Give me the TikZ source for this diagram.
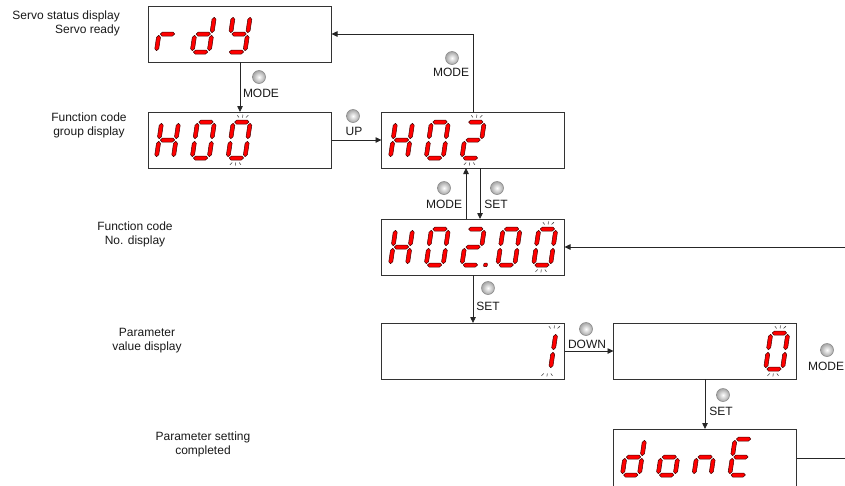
\documentclass[tikz,border=0pt]{standalone}
\usepackage{fontspec}
\setmainfont{Liberation Sans}
\usetikzlibrary{arrows.meta}

% seven-segment geometry (local frame, y up): width 21, height 40, half thickness 2
\newcommand\hseg[3]{\filldraw[segst] (#1,#3) -- (#1+2,#3+2) -- (#2-2,#3+2) -- (#2,#3) -- (#2-2,#3-2) -- (#1+2,#3-2) -- cycle;}
\newcommand\vseg[3]{\filldraw[segst] (#1,#2) -- (#1+2,#2+2) -- (#1+2,#3-2) -- (#1,#3) -- (#1-2,#3-2) -- (#1-2,#2+2) -- cycle;}
\newcommand\dsega{\hseg{3.3}{17.7}{38}}
\newcommand\dsegb{\vseg{19}{21.3}{36.7}}
\newcommand\dsegc{\vseg{19}{3.3}{18.7}}
\newcommand\dsegd{\hseg{3.3}{17.7}{2}}
\newcommand\dsege{\vseg{2}{3.3}{18.7}}
\newcommand\dsegf{\vseg{2}{21.3}{36.7}}
\newcommand\dsegg{\hseg{3.3}{17.7}{20}}
\newcommand\dsegp{\filldraw[segst, rounded corners=0.8pt] (23.8,0.3) rectangle (27.4,3.9);}
\newcommand\blinkmarks[1]{%
  \draw[blink] (#1,42.5) -- (#1,45.5) (#1-3.5,42.5) -- (#1-5.5,44.8) (#1+3.5,42.5) -- (#1+5.5,44.8)
    (#1,-2.5) -- (#1,-5.5) (#1-3.5,-2.5) -- (#1-5.5,-4.8) (#1+3.5,-2.5) -- (#1+5.5,-4.8);}
% #1 x of digit origin, #2 y (pixel) of digit bottom, #3 segments, #4 blink centre (0 = none)
\newcommand\sevdigit[4]{%
  \begin{scope}[shift={(#1,#2)}, yscale=-1, xslant=-0.15]
    \foreach \s in {#3}{\csname dseg\s\endcsname}
    \ifdim #4pt>0pt \blinkmarks{#4}\fi
  \end{scope}}

\begin{document}
\begin{tikzpicture}[x=1pt, y=-1pt, font=\fontsize{12}{14}\selectfont,
  disp/.style={draw=black!80, line width=0.8pt, minimum width=183pt, minimum height=56pt, inner sep=0pt, outer sep=0pt},
  arr/.style={draw=black!85, line width=0.8pt, -{Triangle[length=6pt,width=5.5pt]}},
  plainline/.style={draw=black!85, line width=0.8pt},
  lbl/.style={inner sep=0pt, align=center, text=black!90},
  btn/.style={circle, minimum size=13pt, inner sep=0pt, inner color=white, outer color=black!35, draw=black!45, line width=0.6pt},
  segst/.style={fill=red, draw=red!25!black, line width=0.5pt, line join=round},
  blink/.style={draw=black!75, line width=0.55pt}]
\clip (0,0) rectangle (845,485);

% display boxes
\node[disp] (rdy) at (240,34) {};
\node[disp] (h00) at (240,140) {};
\node[disp] (h02) at (473,140) {};
\node[disp] (h0200) at (473,247) {};
\node[disp] (p1) at (473,351) {};
\node[disp] (p0) at (705,351) {};
\node[disp, minimum height=58pt] (done) at (705,458) {};
\coordinate (inR) at (850,247);
\coordinate (outR) at (850,458);

% connectors
\draw[arr] (rdy) -- (h00);
\draw[arr] (h02.north) |- (rdy.east);
\draw[arr] (h00) -- (h02);
\draw[arr] ([xshift=-7pt]h0200.north) -- ([xshift=-7pt]h02.south);
\draw[arr] ([xshift=7pt]h02.south) -- ([xshift=7pt]h0200.north);
\draw[arr] (h0200) -- (p1);
\draw[arr] (p1) -- (p0);
\draw[arr] (p0) -- (done);
\draw[arr] (inR) -- (h0200.east);
\draw[plainline] (done.east) -- (outR);

% buttons and their labels
\node[btn] (bm1) at (259,77) {};  \node[lbl] (lm1) at (261,93) {MODE};
\node[btn] (bm2) at (452,58) {};  \node[lbl] (lm2) at (451,72) {MODE};
\node[btn] (bu) at (353,116) {};  \node[lbl] (lu) at (354,131) {UP};
\node[btn] (bm3) at (444,188) {}; \node[lbl] (lm3) at (444,204) {MODE};
\node[btn] (bs1) at (497,188) {}; \node[lbl] (ls1) at (496,204) {SET};
\node[btn] (bs2) at (488,288) {}; \node[lbl] (ls2) at (488,306) {SET};
\node[btn] (bd) at (586,329) {};  \node[lbl] (ld) at (587,344) {DOWN};
\node[btn] (bs3) at (723,395) {}; \node[lbl] (ls3) at (721,411) {SET};
\node[btn] (bm4) at (827,350) {}; \node[lbl] (lm4) at (826,366) {MODE};

% left captions
\node[lbl, anchor=east, align=right] (t1) at (120,23) {Servo status display\\Servo ready};
\node[lbl] (t2) at (89,125) {Function code\\group display};
\node[lbl] (t3) at (135,234.5) {Function code\\No. display};
\node[lbl] (t4) at (147,341) {Parameter\\value display};
\node[lbl] (t5) at (203,444) {Parameter setting\\completed};

% digits: rdy
\sevdigit{154}{54}{e,g}{0}
\sevdigit{189.8}{54}{b,c,d,e,g}{0}
\sevdigit{225.6}{54}{b,c,d,f,g}{0}
% H00
\sevdigit{154}{160}{b,c,e,f,g}{0}
\sevdigit{189.8}{160}{a,b,c,d,e,f}{0}
\sevdigit{225.6}{160}{a,b,c,d,e,f}{10.5}
% H02
\sevdigit{388}{160}{b,c,e,f,g}{0}
\sevdigit{423.8}{160}{a,b,c,d,e,f}{0}
\sevdigit{459.6}{160}{a,b,g,e,d}{10.5}
% H02.00
\sevdigit{388}{267}{b,c,e,f,g}{0}
\sevdigit{423.8}{267}{a,b,c,d,e,f}{0}
\sevdigit{459.6}{267}{a,b,g,e,d,p}{0}
\sevdigit{495.4}{267}{a,b,c,d,e,f}{0}
\sevdigit{531.2}{267}{a,b,c,d,e,f}{10.5}
% parameter value 1
\sevdigit{531.2}{371}{b,c}{16.5}
% parameter value 0
\sevdigit{763.2}{371}{a,b,c,d,e,f}{10.5}
% donE
\sevdigit{620}{477}{b,c,d,e,g}{0}
\sevdigit{655.8}{477}{c,d,e,g}{0}
\sevdigit{691.6}{477}{c,e,g}{0}
\sevdigit{727.4}{477}{a,d,e,f,g}{0}
\end{tikzpicture}
\end{document}
